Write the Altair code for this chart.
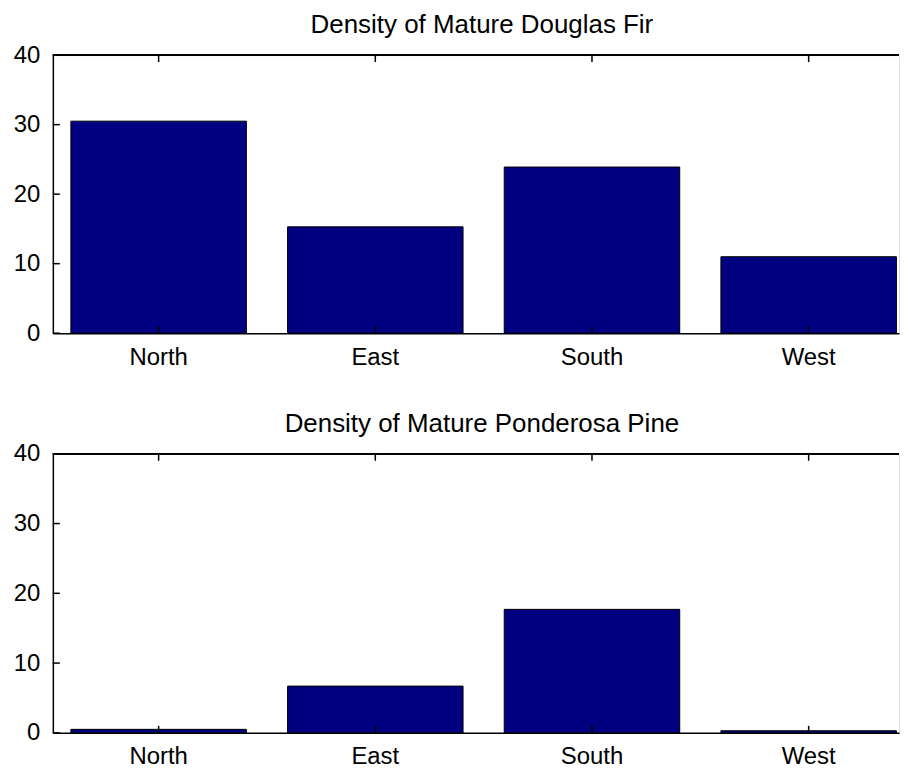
import altair as alt
import pandas as pd

regions = ["North", "East", "South", "West"]
fir = [30.5, 15.3, 23.9, 11.0]
pine = [0.5, 6.7, 17.7, 0.3]
yticks = [0, 10, 20, 30, 40]
titles = ["Density of Mature Douglas Fir", "Density of Mature Ponderosa Pine"]

W = 849
FONT = "Liberation Sans"
NAVY = "#000080"
FS = 24
TFS = 26


def panel(values, title, h):
    df = pd.DataFrame({"region": regions, "density": values})
    tk = pd.DataFrame({"tick": yticks})
    xscale = alt.Scale(paddingInner=0.19, paddingOuter=0.0476, align=0.874)
    xaxis = alt.Axis(labelAngle=0, labelFont=FONT, labelFontSize=FS, labelColor="black",
                     labelPadding=12, ticks=False, domainColor="black", domainWidth=1.5,
                     grid=False)
    yaxis = alt.Axis(values=yticks, ticks=False, labelFont=FONT, labelFontSize=FS,
                     labelColor="black", labelPadding=13, domainColor="black",
                     domainWidth=1.5, grid=False)
    yscale = alt.Scale(domain=[0, 40], nice=False)

    bars = alt.Chart(df).mark_bar(color=NAVY, stroke="black", strokeWidth=1).encode(
        x=alt.X("region:N", sort=regions, title=None, scale=xscale, axis=xaxis),
        y=alt.Y("density:Q", title=None, scale=yscale, axis=yaxis),
    )
    top_ticks = alt.Chart(df).mark_rule(color="black", strokeWidth=1.5).encode(
        x=alt.X("region:N", sort=regions, title=None, scale=xscale, axis=xaxis),
        y=alt.value(0), y2=alt.value(7),
    )
    bot_ticks = alt.Chart(df).mark_rule(color="black", strokeWidth=1.5).encode(
        x=alt.X("region:N", sort=regions, title=None, scale=xscale, axis=xaxis),
        y=alt.value(h), y2=alt.value(h - 7),
    )
    left_ticks = alt.Chart(tk).mark_rule(color="black", strokeWidth=1.5).encode(
        y=alt.Y("tick:Q", title=None, scale=yscale, axis=yaxis),
        x=alt.value(0), x2=alt.value(7),
    )
    top_line = alt.Chart(tk).mark_rule(color="black", strokeWidth=1.5).encode(
        x=alt.value(0), x2=alt.value(W), y=alt.value(0),
    )
    return alt.layer(bars, top_ticks, bot_ticks, left_ticks, top_line).properties(
        width=W, height=h,
        title=alt.TitleParams(title, font=FONT, fontSize=TFS, fontWeight="normal",
                              color="black", offset=5, dx=6),
    )


chart = alt.vconcat(
    panel(fir, titles[0], 279),
    panel(pine, titles[1], 280),
    spacing=40,
).properties(
    padding={"left": 4, "top": 2, "right": 0, "bottom": 0},
).configure_view(stroke=None).configure(background="white")

chart.save("out.html", embed_options={"renderer": "svg", "actions": False})
